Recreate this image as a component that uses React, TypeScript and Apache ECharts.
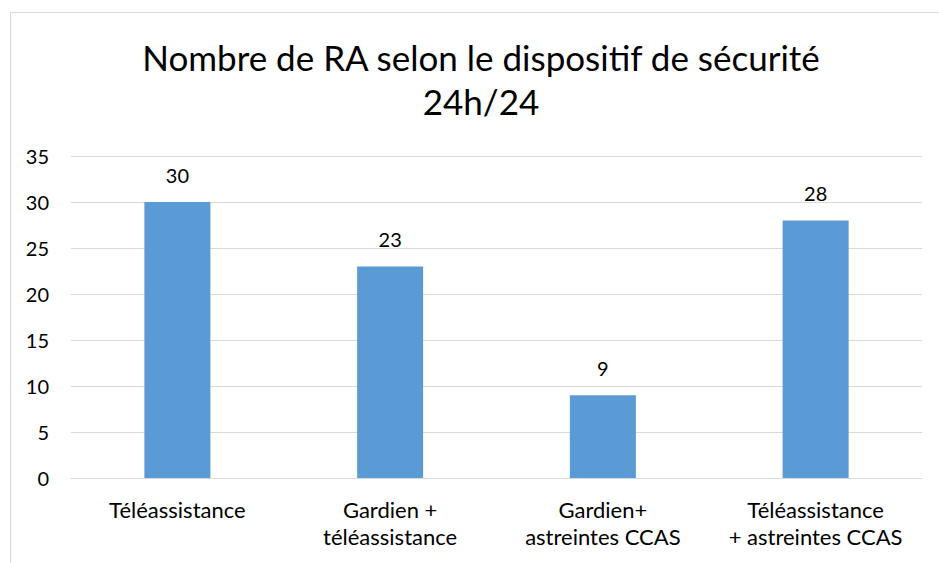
import React, { useEffect, useRef } from "react";
import * as echarts from "echarts";

const titleLines = ["Nombre de RA selon le dispositif de sécurité", "24h/24"];
const categories = [
  "Téléassistance",
  "Gardien +\ntéléassistance",
  "Gardien+\nastreintes CCAS",
  "Téléassistance\n+ astreintes CCAS",
];
const values = [30, 23, 9, 28];
const yMin = 0;
const yMax = 35;
const yInterval = 5;

const FONT = "Lato";

export default function App() {
  const ref = useRef<HTMLDivElement>(null);
  useEffect(() => {
    if (!ref.current) return;
    const chart = echarts.init(ref.current, undefined, { renderer: "svg" });
    chart.setOption({
      animation: false,
      backgroundColor: "#ffffff",
      graphic: [
        {
          type: "rect",
          shape: { x: 10.5, y: 12.5, width: 1200, height: 1200 },
          style: { fill: "none", stroke: "#D9D9D9", lineWidth: 1 },
          silent: true,
        },
        {
          type: "text",
          x: 481,
          y: 57,
          style: {
            text: titleLines[0],
            fontFamily: FONT,
            fontSize: 35,
            fill: "#000000",
            textAlign: "center",
            textVerticalAlign: "middle",
          },
        },
        {
          type: "text",
          x: 481,
          y: 101,
          style: {
            text: titleLines[1],
            fontFamily: FONT,
            fontSize: 35,
            fill: "#000000",
            textAlign: "center",
            textVerticalAlign: "middle",
          },
        },
      ],
      grid: { left: 71, right: 17, top: 156, bottom: 85, containLabel: false },
      xAxis: {
        type: "category",
        data: categories,
        axisLine: { show: true, lineStyle: { color: "#D9D9D9", width: 1 } },
        axisTick: { show: false },
        axisLabel: {
          color: "#000000",
          fontFamily: FONT,
          fontSize: 22,
          lineHeight: 27,
          margin: 18,
          interval: 0,
        },
      },
      yAxis: {
        type: "value",
        min: yMin,
        max: yMax,
        interval: yInterval,
        axisLine: { show: false },
        axisTick: { show: false },
        splitLine: { lineStyle: { color: "#D9D9D9", width: 1 } },
        axisLabel: {
          color: "#000000",
          fontFamily: FONT,
          fontSize: 20,
          margin: 22,
        },
      },
      series: [
        {
          type: "bar",
          data: values,
          barWidth: 66,
          itemStyle: { color: "#5B9BD5" },
          label: {
            show: true,
            position: "top",
            distance: 15,
            color: "#000000",
            fontFamily: FONT,
            fontSize: 20,
            lineHeight: 24,
          },
        },
      ],
    });
    return () => chart.dispose();
  }, []);
  return (
    <div
      ref={ref}
      style={{ position: "fixed", left: 0, top: 0, width: 939, height: 563 }}
    />
  );
}
